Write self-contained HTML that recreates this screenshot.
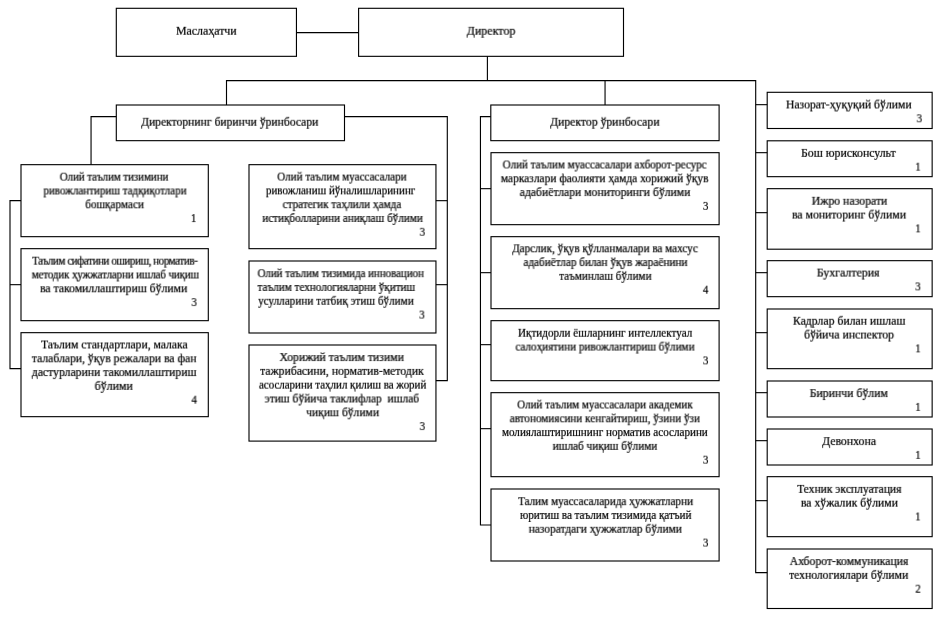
<!DOCTYPE html>
<html lang="uz">
<head>
<meta charset="utf-8">
<title>Ташкилий тузилма</title>
<style>
html,body{margin:0;padding:0;background:#fff;}
body{width:941px;height:618px;position:relative;overflow:hidden;font-family:"Liberation Serif","Times New Roman",serif;font-size:12px;line-height:14px;color:#000;}
svg{position:absolute;left:0;top:0;}
svg rect,svg polyline{fill:none;stroke:#000;stroke-width:1.12;stroke-linejoin:miter;stroke-linecap:butt;}
.t,.n{position:absolute;white-space:pre;width:0;height:14px;-webkit-text-stroke:0.22px #000;}
.t span,.n span{position:absolute;left:0;top:0;display:block;height:14px;}
.t span{transform:translateX(-50%) rotate(0.005deg);}
.n span{transform-origin:100% 50%;transform:translateX(-100%) rotate(0.005deg) scaleX(0.9);}
</style>
</head>
<body>
<svg width="941" height="618" viewBox="0 0 941 618">
<polyline points="296.45,32.67 358.6,32.67"/>
<polyline points="487.4,56.33 487.4,80.67"/>
<polyline points="226.5,105 226.5,80.67 755.7,80.67 755.7,572.67 767.2,572.67"/>
<polyline points="605.05,80.67 605.05,105"/>
<polyline points="116.3,116.67 91.05,116.67 91.05,164.67"/>
<polyline points="21,200.67 10,200.67 10,368.67 21,368.67"/>
<polyline points="10,284.67 21,284.67"/>
<polyline points="344.5,116.67 447.3,116.67 447.3,380.67 435.95,380.67"/>
<polyline points="435.95,200.67 447.3,200.67"/>
<polyline points="435.95,284.67 447.3,284.67"/>
<polyline points="490.8,116.67 480.45,116.67 480.45,525 491,525"/>
<polyline points="480.45,188.67 491,188.67"/>
<polyline points="480.45,272.67 491,272.67"/>
<polyline points="480.45,344.67 491,344.67"/>
<polyline points="480.45,428.67 491,428.67"/>
<polyline points="755.7,104.67 767.2,104.67"/>
<polyline points="755.7,152.67 767.2,152.67"/>
<polyline points="755.7,212.67 767.2,212.67"/>
<polyline points="755.7,272.67 767.2,272.67"/>
<polyline points="755.7,332.67 767.2,332.67"/>
<polyline points="755.7,392.67 767.2,392.67"/>
<polyline points="755.7,440.67 767.2,440.67"/>
<polyline points="755.7,500.67 767.2,500.67"/>
<rect x="116.3" y="8.3" width="180.15" height="48.03"/>
<rect x="358.6" y="8.3" width="264.9" height="48.03"/>
<rect x="116.3" y="105" width="228.2" height="35.67"/>
<rect x="490.8" y="105" width="228.3" height="35.67"/>
<rect x="21" y="164.67" width="187.3" height="72"/>
<rect x="21" y="248.67" width="187.3" height="72"/>
<rect x="21" y="332.67" width="187.3" height="84"/>
<rect x="249" y="164.67" width="186.95" height="84"/>
<rect x="249" y="261" width="186.95" height="72"/>
<rect x="249" y="345" width="186.95" height="96.1"/>
<rect x="491" y="152.67" width="228.1" height="72"/>
<rect x="491" y="236.67" width="228.1" height="72"/>
<rect x="491" y="320.67" width="228.1" height="60"/>
<rect x="491" y="392.67" width="228.1" height="84"/>
<rect x="491" y="489" width="228.1" height="72"/>
<rect x="767.2" y="92.3" width="164.95" height="36.2"/>
<rect x="767.2" y="140.8" width="164.95" height="35.87"/>
<rect x="767.2" y="188.67" width="164.95" height="60.53"/>
<rect x="767.2" y="260.67" width="164.95" height="36"/>
<rect x="767.2" y="309" width="164.95" height="59.67"/>
<rect x="767.2" y="381" width="164.95" height="36"/>
<rect x="767.2" y="429" width="164.95" height="36"/>
<rect x="767.2" y="476.67" width="164.95" height="60"/>
<rect x="767.2" y="549" width="164.95" height="59.5"/>
</svg>
<div class="t" style="left:206px;top:23px;transform:translate3d(0.4px,0.8px,0) rotateX(0.01deg);"><span style="transform:translateX(-50%) rotate(0.005deg) scaleX(0.9893);">Маслаҳатчи</span></div>
<div class="t" style="left:491px;top:23px;transform:translate3d(0px,0.8px,0) rotateX(0.01deg);"><span style="transform:translateX(-50%) rotate(0.005deg) scaleX(0.9999);">Директор</span></div>
<div class="t" style="left:229px;top:114px;transform:translate3d(0.8px,0.8px,0) rotateX(0.01deg);"><span style="transform:translateX(-50%) rotate(0.005deg) scaleX(0.9679);">Директорнинг биринчи ўринбосари</span></div>
<div class="t" style="left:604px;top:114px;transform:translate3d(0.9px,0.8px,0) rotateX(0.01deg);"><span style="transform:translateX(-50%) rotate(0.005deg) scaleX(0.9757);">Директор ўринбосари</span></div>
<div class="t" style="left:114px;top:169px;transform:translate3d(-0.05px,0.7px,0) rotateX(0.01deg);"><span style="letter-spacing:-0.104px;transform:translateX(-50%) rotate(0.005deg) scaleX(0.92);">Олий таълим тизимини</span></div>
<div class="t" style="left:115px;top:183px;transform:translate3d(0px,0.5px,0) rotateX(0.01deg);"><span style="transform:translateX(-50%) rotate(0.005deg) scaleX(0.9209);">ривожлантириш тадқиқотлари</span></div>
<div class="t" style="left:114px;top:197px;transform:translate3d(0.6px,0.3px,0) rotateX(0.01deg);"><span style="transform:translateX(-50%) rotate(0.005deg) scaleX(0.9331);">бошқармаси</span></div>
<div class="n" style="left:196px;top:211px;transform:translate3d(0.3px,0.1px,0) rotateX(0.01deg);"><span>1</span></div>
<div class="t" style="left:115px;top:253px;transform:translate3d(-0.21px,0.7px,0) rotateX(0.01deg);"><span style="letter-spacing:-0.467px;transform:translateX(-50%) rotate(0.005deg) scaleX(0.92);">Таълим сифатини ошириш, норматив-</span></div>
<div class="t" style="left:115px;top:267px;transform:translate3d(0.33px,0.5px,0) rotateX(0.01deg);"><span style="letter-spacing:-0.153px;transform:translateX(-50%) rotate(0.005deg) scaleX(0.92);">методик ҳужжатларни ишлаб чиқиш</span></div>
<div class="t" style="left:113px;top:281px;transform:translate3d(0.75px,0.3px,0) rotateX(0.01deg);"><span style="transform:translateX(-50%) rotate(0.005deg) scaleX(0.975);">ва такомиллаштириш бўлими</span></div>
<div class="n" style="left:196px;top:295px;transform:translate3d(0.8px,0.1px,0) rotateX(0.01deg);"><span>3</span></div>
<div class="t" style="left:114px;top:337px;transform:translate3d(0.4px,0.5px,0) rotateX(0.01deg);"><span style="transform:translateX(-50%) rotate(0.005deg) scaleX(0.9701);">Таълим стандартлари, малака</span></div>
<div class="t" style="left:114px;top:351px;transform:translate3d(0.1px,0.3px,0) rotateX(0.01deg);"><span style="transform:translateX(-50%) rotate(0.005deg) scaleX(0.9727);">талаблари, ўқув режалари ва фан</span></div>
<div class="t" style="left:114px;top:365px;transform:translate3d(0.1px,0.1px,0) rotateX(0.01deg);"><span style="transform:translateX(-50%) rotate(0.005deg) scaleX(0.9753);">дастурларини такомиллаштириш</span></div>
<div class="t" style="left:113px;top:378px;transform:translate3d(0.75px,0.9px,0) rotateX(0.01deg);"><span style="transform:translateX(-50%) rotate(0.005deg) scaleX(0.9914);">бўлими</span></div>
<div class="n" style="left:196px;top:392px;transform:translate3d(0.8px,0.7px,0) rotateX(0.01deg);"><span>4</span></div>
<div class="t" style="left:341px;top:169px;transform:translate3d(0.9px,0.6px,0) rotateX(0.01deg);"><span style="transform:translateX(-50%) rotate(0.005deg) scaleX(0.925);">Олий таълим муассасалари</span></div>
<div class="t" style="left:340px;top:183px;transform:translate3d(0.6px,0.4px,0) rotateX(0.01deg);"><span style="transform:translateX(-50%) rotate(0.005deg) scaleX(0.9211);">ривожланиш йўналишларининг</span></div>
<div class="t" style="left:341px;top:197px;transform:translate3d(0.9px,0.2px,0) rotateX(0.01deg);"><span style="transform:translateX(-50%) rotate(0.005deg) scaleX(0.9319);">стратегик таҳлили ҳамда</span></div>
<div class="t" style="left:342px;top:211px;transform:translate3d(0.6px,0px,0) rotateX(0.01deg);"><span style="transform:translateX(-50%) rotate(0.005deg) scaleX(0.9285);">истиқболларини аниқлаш бўлими</span></div>
<div class="n" style="left:425px;top:224px;transform:translate3d(0px,0.8px,0) rotateX(0.01deg);"><span>3</span></div>
<div class="t" style="left:340px;top:266px;transform:translate3d(0.67px,0.2px,0) rotateX(0.01deg);"><span style="letter-spacing:-0.072px;transform:translateX(-50%) rotate(0.005deg) scaleX(0.92);">Олий таълим тизимида инновацион</span></div>
<div class="t" style="left:336px;top:280px;transform:translate3d(0.3px,0px,0) rotateX(0.01deg);"><span style="transform:translateX(-50%) rotate(0.005deg) scaleX(0.9288);">таълим технологияларни ўқитиш</span></div>
<div class="t" style="left:336px;top:293px;transform:translate3d(0px,0.8px,0) rotateX(0.01deg);"><span style="transform:translateX(-50%) rotate(0.005deg) scaleX(0.9334);">усулларини татбиқ этиш бўлими</span></div>
<div class="n" style="left:424px;top:307px;transform:translate3d(0.6px,0.6px,0) rotateX(0.01deg);"><span>3</span></div>
<div class="t" style="left:341px;top:350px;transform:translate3d(0.7px,0.1px,0) rotateX(0.01deg);"><span style="transform:translateX(-50%) rotate(0.005deg) scaleX(0.978);">Хорижий таълим тизими</span></div>
<div class="t" style="left:342px;top:363px;transform:translate3d(0px,0.9px,0) rotateX(0.01deg);"><span style="transform:translateX(-50%) rotate(0.005deg) scaleX(0.9769);">тажрибасини, норматив-методик</span></div>
<div class="t" style="left:342px;top:377px;transform:translate3d(0.58px,0.7px,0) rotateX(0.01deg);"><span style="letter-spacing:-0.05px;transform:translateX(-50%) rotate(0.005deg) scaleX(0.92);">асосларини таҳлил қилиш ва жорий</span></div>
<div class="t" style="left:341px;top:391px;transform:translate3d(0.9px,0.5px,0) rotateX(0.01deg);"><span style="transform:translateX(-50%) rotate(0.005deg) scaleX(0.9584);">этиш бўйича таклифлар  ишлаб</span></div>
<div class="t" style="left:342px;top:405px;transform:translate3d(0.7px,0.3px,0) rotateX(0.01deg);"><span style="transform:translateX(-50%) rotate(0.005deg) scaleX(0.9658);">чиқиш бўлими</span></div>
<div class="n" style="left:425px;top:419px;transform:translate3d(0px,0.1px,0) rotateX(0.01deg);"><span>3</span></div>
<div class="t" style="left:604px;top:157px;transform:translate3d(0.6px,0.5px,0) rotateX(0.01deg);"><span style="transform:translateX(-50%) rotate(0.005deg) scaleX(0.9229);">Олий таълим муассасалари ахборот-ресурс</span></div>
<div class="t" style="left:604px;top:171px;transform:translate3d(0.6px,0.3px,0) rotateX(0.01deg);"><span style="transform:translateX(-50%) rotate(0.005deg) scaleX(0.9533);">марказлари фаолияти ҳамда хорижий ўқув</span></div>
<div class="t" style="left:605px;top:185px;transform:translate3d(0px,0.1px,0) rotateX(0.01deg);"><span style="transform:translateX(-50%) rotate(0.005deg) scaleX(0.9724);">адабиётлари мониторинги бўлими</span></div>
<div class="n" style="left:708px;top:198px;transform:translate3d(0.3px,0.9px,0) rotateX(0.01deg);"><span>3</span></div>
<div class="t" style="left:605px;top:241px;transform:translate3d(0px,0.3px,0) rotateX(0.01deg);"><span style="transform:translateX(-50%) rotate(0.005deg) scaleX(0.9302);">Дарслик, ўқув қўлланмалари ва махсус</span></div>
<div class="t" style="left:605px;top:255px;transform:translate3d(0.4px,0.1px,0) rotateX(0.01deg);"><span style="transform:translateX(-50%) rotate(0.005deg) scaleX(0.9337);">адабиётлар билан ўқув жараёнини</span></div>
<div class="t" style="left:605px;top:268px;transform:translate3d(0.4px,0.9px,0) rotateX(0.01deg);"><span style="transform:translateX(-50%) rotate(0.005deg) scaleX(0.9296);">таъминлаш бўлими</span></div>
<div class="n" style="left:708px;top:282px;transform:translate3d(0.2px,0.7px,0) rotateX(0.01deg);"><span>4</span></div>
<div class="t" style="left:605px;top:325px;transform:translate3d(0.1px,0.8px,0) rotateX(0.01deg);"><span style="transform:translateX(-50%) rotate(0.005deg) scaleX(0.9313);">Иқтидорли ёшларнинг интеллектуал</span></div>
<div class="t" style="left:605px;top:339px;transform:translate3d(0px,0.6px,0) rotateX(0.01deg);"><span style="transform:translateX(-50%) rotate(0.005deg) scaleX(0.9288);">салоҳиятини ривожлантириш бўлими</span></div>
<div class="n" style="left:708px;top:353px;transform:translate3d(0.3px,0.4px,0) rotateX(0.01deg);"><span>3</span></div>
<div class="t" style="left:605px;top:397px;transform:translate3d(0px,0.5px,0) rotateX(0.01deg);"><span style="transform:translateX(-50%) rotate(0.005deg) scaleX(0.9222);">Олий таълим муассасалари академик</span></div>
<div class="t" style="left:604px;top:411px;transform:translate3d(0.75px,0.3px,0) rotateX(0.01deg);"><span style="transform:translateX(-50%) rotate(0.005deg) scaleX(0.9299);">автономиясини кенгайтириш, ўзини ўзи</span></div>
<div class="t" style="left:604px;top:425px;transform:translate3d(0.9px,0.1px,0) rotateX(0.01deg);"><span style="transform:translateX(-50%) rotate(0.005deg) scaleX(0.9258);">молиялаштиришнинг норматив асосларини</span></div>
<div class="t" style="left:605px;top:438px;transform:translate3d(0px,0.9px,0) rotateX(0.01deg);"><span style="transform:translateX(-50%) rotate(0.005deg) scaleX(0.9385);">ишлаб чиқиш бўлими</span></div>
<div class="n" style="left:708px;top:452px;transform:translate3d(0.3px,0.7px,0) rotateX(0.01deg);"><span>3</span></div>
<div class="t" style="left:605px;top:494px;transform:translate3d(0.6px,0.2px,0) rotateX(0.01deg);"><span style="transform:translateX(-50%) rotate(0.005deg) scaleX(0.9307);">Талим муассасаларида ҳужжатларни</span></div>
<div class="t" style="left:605px;top:508px;transform:translate3d(0.8px,0px,0) rotateX(0.01deg);"><span style="transform:translateX(-50%) rotate(0.005deg) scaleX(0.9247);">юритиш ва таълим тизимида қатъий</span></div>
<div class="t" style="left:605px;top:521px;transform:translate3d(0.3px,0.8px,0) rotateX(0.01deg);"><span style="transform:translateX(-50%) rotate(0.005deg) scaleX(0.9484);">назоратдаги ҳужжатлар бўлими</span></div>
<div class="n" style="left:708px;top:535px;transform:translate3d(0.3px,0.6px,0) rotateX(0.01deg);"><span>3</span></div>
<div class="t" style="left:848px;top:97px;transform:translate3d(0.75px,0.5px,0) rotateX(0.01deg);"><span style="transform:translateX(-50%) rotate(0.005deg) scaleX(0.9748);">Назорат-ҳуқуқий бўлими</span></div>
<div class="n" style="left:922px;top:111px;transform:translate3d(0px,0.3px,0) rotateX(0.01deg);"><span>3</span></div>
<div class="t" style="left:848px;top:145px;transform:translate3d(0.4px,0.9px,0) rotateX(0.01deg);"><span style="transform:translateX(-50%) rotate(0.005deg) scaleX(0.9826);">Бош юрисконсульт</span></div>
<div class="n" style="left:920px;top:159px;transform:translate3d(0.7px,0.7px,0) rotateX(0.01deg);"><span>1</span></div>
<div class="t" style="left:849px;top:193px;transform:translate3d(0.5px,0.8px,0) rotateX(0.01deg);"><span style="transform:translateX(-50%) rotate(0.005deg) scaleX(0.9823);">Ижро назорати</span></div>
<div class="t" style="left:849px;top:207px;transform:translate3d(0.1px,0.6px,0) rotateX(0.01deg);"><span style="transform:translateX(-50%) rotate(0.005deg) scaleX(0.9768);">ва мониторинг бўлими</span></div>
<div class="n" style="left:920px;top:221px;transform:translate3d(0.7px,0.4px,0) rotateX(0.01deg);"><span>1</span></div>
<div class="t" style="left:848px;top:265px;transform:translate3d(0.1px,0.6px,0) rotateX(0.01deg);"><span style="transform:translateX(-50%) rotate(0.005deg) scaleX(0.9881);">Бухгалтерия</span></div>
<div class="n" style="left:920px;top:279px;transform:translate3d(0.6px,0.4px,0) rotateX(0.01deg);"><span>3</span></div>
<div class="t" style="left:849px;top:313px;transform:translate3d(0.1px,0.8px,0) rotateX(0.01deg);"><span style="transform:translateX(-50%) rotate(0.005deg) scaleX(0.9785);">Кадрлар билан ишлаш</span></div>
<div class="t" style="left:849px;top:327px;transform:translate3d(0.1px,0.6px,0) rotateX(0.01deg);"><span style="transform:translateX(-50%) rotate(0.005deg) scaleX(0.9777);">бўйича инспектор</span></div>
<div class="n" style="left:920px;top:341px;transform:translate3d(0.7px,0.4px,0) rotateX(0.01deg);"><span>1</span></div>
<div class="t" style="left:848px;top:386px;transform:translate3d(0.75px,0.1px,0) rotateX(0.01deg);"><span style="transform:translateX(-50%) rotate(0.005deg) scaleX(0.9808);">Биринчи бўлим</span></div>
<div class="n" style="left:920px;top:399px;transform:translate3d(0.7px,0.9px,0) rotateX(0.01deg);"><span>1</span></div>
<div class="t" style="left:849px;top:434px;transform:translate3d(0.1px,0.1px,0) rotateX(0.01deg);"><span style="transform:translateX(-50%) rotate(0.005deg) scaleX(0.9815);">Девонхона</span></div>
<div class="n" style="left:920px;top:447px;transform:translate3d(0.7px,0.9px,0) rotateX(0.01deg);"><span>1</span></div>
<div class="t" style="left:849px;top:481px;transform:translate3d(0.4px,0.9px,0) rotateX(0.01deg);"><span style="transform:translateX(-50%) rotate(0.005deg) scaleX(0.9664);">Техник эксплуатация</span></div>
<div class="t" style="left:849px;top:495px;transform:translate3d(0.4px,0.7px,0) rotateX(0.01deg);"><span style="transform:translateX(-50%) rotate(0.005deg) scaleX(0.9761);">ва хўжалик бўлими</span></div>
<div class="n" style="left:920px;top:509px;transform:translate3d(0.6px,0.5px,0) rotateX(0.01deg);"><span>1</span></div>
<div class="t" style="left:849px;top:554px;transform:translate3d(0px,0.1px,0) rotateX(0.01deg);"><span style="transform:translateX(-50%) rotate(0.005deg) scaleX(0.9748);">Ахборот-коммуникация</span></div>
<div class="t" style="left:848px;top:567px;transform:translate3d(0.75px,0.9px,0) rotateX(0.01deg);"><span style="transform:translateX(-50%) rotate(0.005deg) scaleX(0.9707);">технологиялари бўлими</span></div>
<div class="n" style="left:920px;top:581px;transform:translate3d(0.7px,0.7px,0) rotateX(0.01deg);"><span>2</span></div>
</body>
</html>
